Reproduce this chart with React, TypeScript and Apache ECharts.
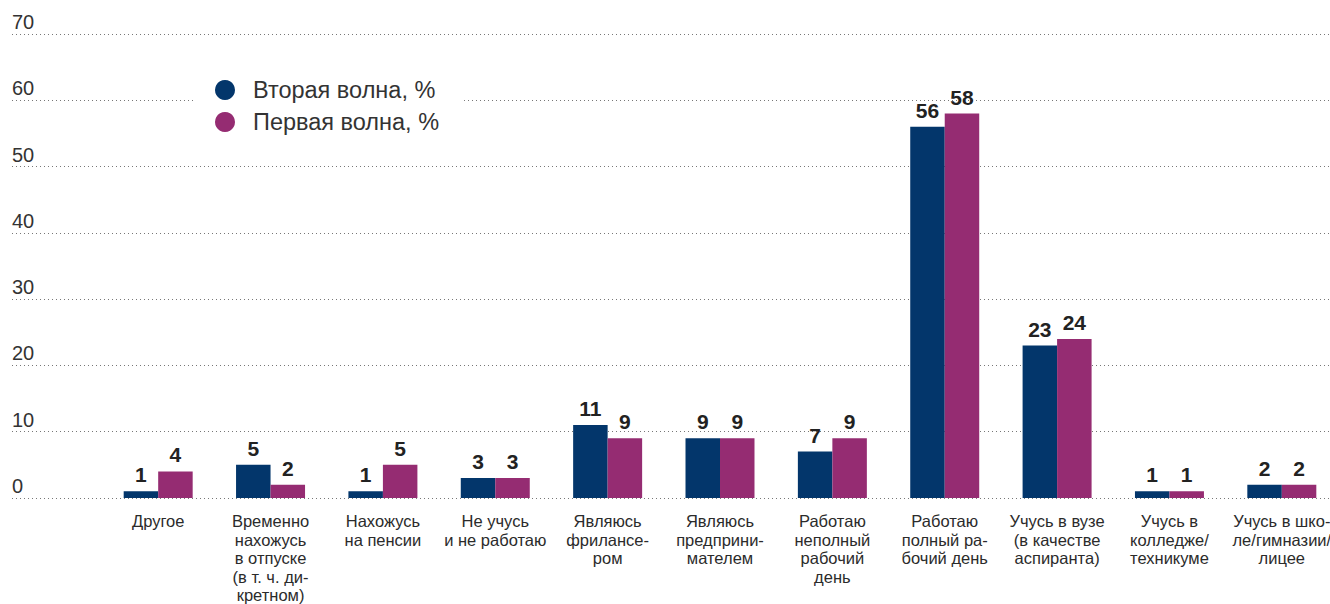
import React, { useEffect, useRef } from "react";
import * as echarts from "echarts";

const categories = [
  "Другое",
  "Временно\nнахожусь\nв отпуске\n(в т. ч. ди-\nкретном)",
  "Нахожусь\nна пенсии",
  "Не учусь\nи не работаю",
  "Являюсь\nфрилансе-\nром",
  "Являюсь\nпредприни-\nмателем",
  "Работаю\nнеполный\nрабочий\nдень",
  "Работаю\nполный ра-\nбочий день",
  "Учусь в вузе\n(в качестве\nаспиранта)",
  "Учусь в\nколледже/\nтехникуме",
  "Учусь в шко-\nле/гимназии/\nлицее",
];
const secondWave = [1, 5, 1, 3, 11, 9, 7, 56, 23, 1, 2];
const firstWave = [4, 2, 5, 3, 9, 9, 9, 58, 24, 1, 2];
const seriesNames = ["Вторая волна, %", "Первая волна, %"];

const FONT = "'Liberation Sans', Arial, sans-serif";
const BLUE = "#03366B";
const PURPLE = "#952C72";

export default function App() {
  const ref = useRef<HTMLDivElement>(null);
  useEffect(() => {
    if (!ref.current) return;
    const chart = echarts.init(ref.current, undefined, { renderer: "svg" });
    const barLabel = {
      show: true,
      position: "top",
      distance: 6,
      fontFamily: FONT,
      fontWeight: "bold",
      fontSize: 21,
      color: "#222",
    };
    chart.setOption({
      animation: false,
      textStyle: { fontFamily: FONT },
      grid: [
        { left: 12, right: 0, top: 34, bottom: 106, containLabel: false, outerBoundsMode: "none" },
        { left: 102, right: -8, top: 34, bottom: 106, containLabel: false, outerBoundsMode: "none" },
      ],
      legend: {
        data: seriesNames,
        orient: "vertical",
        left: 195,
        top: 68,
        icon: "circle",
        itemWidth: 20,
        itemHeight: 20,
        itemGap: 8,
        padding: [10, 25, 10, 20],
        backgroundColor: "#fff",
        textStyle: {
          fontFamily: FONT,
          fontSize: 23.5,
          color: "#333",
          lineHeight: 20,
          padding: [0, 0, 0, 13],
        },
        z: 10,
      },
      xAxis: [
        {
          gridIndex: 0,
          type: "value",
          show: false,
        },
        {
          gridIndex: 1,
          type: "category",
          data: categories,
          axisLine: { show: false },
          axisTick: { show: false },
          axisLabel: {
            interval: 0,
            margin: 14,
            fontFamily: FONT,
            fontSize: 16.5,
            lineHeight: 18.5,
            color: "#2b2b2b",
          },
        },
      ],
      yAxis: [
        {
          gridIndex: 0,
          type: "value",
          min: 0,
          max: 70,
          interval: 10,
          axisLine: { show: false },
          axisTick: { show: false },
          axisLabel: {
            inside: true,
            margin: 0,
            verticalAlign: "bottom",
            padding: [0, 0, 2, 0],
            fontFamily: FONT,
            fontSize: 20,
            color: "#333",
          },
          splitLine: {
            show: true,
            lineStyle: { color: "#777", width: 1, type: [1, 3] },
          },
        },
        {
          gridIndex: 1,
          type: "value",
          min: 0,
          max: 70,
          interval: 10,
          show: false,
          splitLine: { show: false },
        },
      ],
      series: [
        {
          name: seriesNames[0],
          type: "bar",
          xAxisIndex: 1,
          yAxisIndex: 1,
          data: secondWave,
          barGap: "0%",
          barCategoryGap: "38.6%",
          itemStyle: { color: BLUE },
          label: barLabel,
        },
        {
          name: seriesNames[1],
          type: "bar",
          xAxisIndex: 1,
          yAxisIndex: 1,
          data: firstWave,
          barGap: "0%",
          barCategoryGap: "38.6%",
          itemStyle: { color: PURPLE },
          label: barLabel,
        },
      ],
    });
    return () => chart.dispose();
  }, []);
  return (
    <div
      ref={ref}
      style={{ position: "absolute", left: 0, top: 0, width: 1330, height: 604 }}
    />
  );
}
